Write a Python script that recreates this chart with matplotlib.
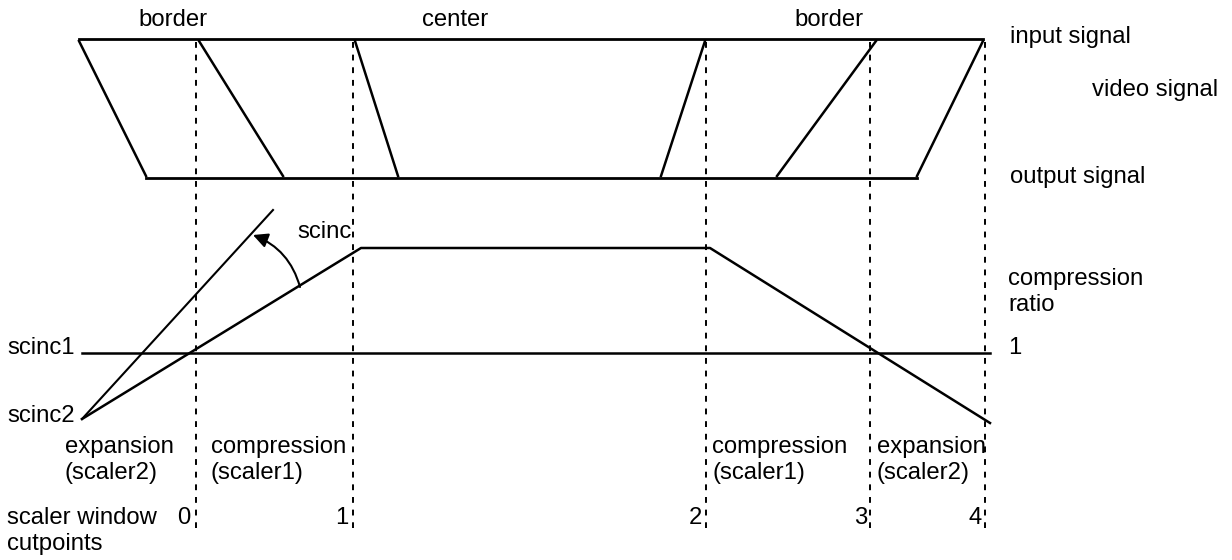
import numpy as np
import matplotlib
matplotlib.use("Agg")
import matplotlib.pyplot as plt

plt.rcParams['font.family'] = ['Liberation Sans', 'DejaVu Sans']

# diagram units = pixels of the 1232x560 canvas, y grows downwards
cut_x = [196, 353, 706, 870, 985]
cut_labels = ['0', '1', '2', '3', '4']
cut_label_x = [190, 348, 702, 867, 982]

# video signal: input line (top) and output line (bottom)
input_y = 39
output_y = 178
scan_in_x = [79, 199, 355, 705, 876, 983]
scan_out_x = [146, 283, 398, 661, 777, 917]

# compression ratio curve
ratio_x = [82, 361, 710, 990]
ratio_y = [419, 248, 248, 423]
steep_x = [82, 273]
steep_y = [419, 210]
unity_y = 353
unity_x = [82, 990]

zone_titles = ['border', 'center', 'border']
zone_title_x = [173, 455, 829]
zone_names = ['expansion\n(scaler2)', 'compression\n(scaler1)',
              'compression\n(scaler1)', 'expansion\n(scaler2)']
zone_name_x = [65, 211, 712, 877]

fs = 17.2
ls = 1.25

fig = plt.figure(figsize=(12.32, 5.6), dpi=100)
ax = fig.add_axes([0, 0, 1, 1])
ax.set_xlim(0, 1232)
ax.set_ylim(560, 0)
ax.axis('off')

# dashed cutpoint lines
for x in cut_x:
    ax.plot([x, x], [42, 528], color='black', lw=1.4, linestyle=(0, (3, 3.5)))

# input / output signal
ax.plot([scan_in_x[0], scan_in_x[-1]], [input_y, input_y], color='black', lw=2.0)
ax.plot([scan_out_x[0], scan_out_x[-1]], [output_y, output_y], color='black', lw=2.0)
for xi, xo in zip(scan_in_x, scan_out_x):
    ax.plot([xi, xo], [input_y + 2, output_y - 2], color='black', lw=1.8)

# compression ratio
ax.plot(unity_x, [unity_y, unity_y], color='black', lw=1.8)
ax.plot(ratio_x, ratio_y, color='black', lw=1.8)
ax.plot(steep_x, steep_y, color='black', lw=1.5)

# scinc arrow
ax.annotate('', xy=(253, 235), xytext=(300, 287),
            arrowprops=dict(arrowstyle='-|>', color='black', lw=1.5,
                            mutation_scale=22, shrinkA=0, shrinkB=0,
                            connectionstyle='arc3,rad=0.25'))

# texts
for t, x in zip(zone_titles, zone_title_x):
    ax.text(x, 20, t, fontsize=fs, ha='center', va='center')
ax.text(1010, 37, 'input signal', fontsize=fs, va='center')
ax.text(1092, 90, 'video signal', fontsize=fs, va='center')
ax.text(1010, 177, 'output signal', fontsize=fs, va='center')
ax.text(297, 232, 'scinc', fontsize=fs, va='center')
ax.text(1008, 292, 'compression\nratio', fontsize=fs, va='center', linespacing=ls)
ax.text(1008, 348, '1', fontsize=fs, va='center')
ax.text(7, 348, 'scinc1', fontsize=fs, va='center')
ax.text(7, 416, 'scinc2', fontsize=fs, va='center')
for t, x in zip(zone_names, zone_name_x):
    ax.text(x, 460, t, fontsize=fs, va='center', linespacing=ls)
ax.text(7, 531, 'scaler window\ncutpoints', fontsize=fs, va='center', linespacing=ls)
for t, x in zip(cut_labels, cut_label_x):
    ax.text(x, 518, t, fontsize=fs, ha='right', va='center')

fig.savefig('out.png', dpi=100)
